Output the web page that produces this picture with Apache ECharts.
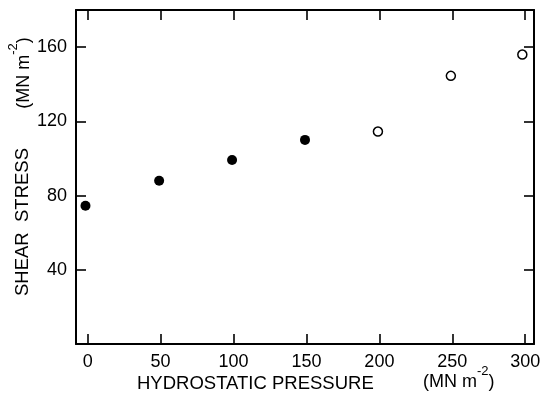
<!DOCTYPE html>
<html>
<head>
<meta charset="utf-8">
<script src="https://cdn.jsdelivr.net/npm/echarts@6/dist/echarts.min.js"></script>
<style>html,body{margin:0;padding:0;background:#fff;}#c{width:545px;height:396px;}</style>
</head>
<body>
<div id="c"></div>
<script>
const xTicks = [0, 50, 100, 150, 200, 250, 300];
const yTicks = [40, 80, 120, 160];
const filledPressure = [-1.5, 49, 99, 149];
const filledStress = [74.5, 88, 99.2, 110];
const openPressure = [199, 249, 298];
const openStress = [114.5, 144.5, 156];

const FONT = '"Liberation Sans", Arial, Helvetica, sans-serif';
const chart = echarts.init(document.getElementById('c'), null, {renderer: 'canvas'});

const line = {show: true, onZero: false, lineStyle: {color: '#000', width: 2}};
const tick = (vals) => ({show: true, inside: true, length: 10, customValues: vals, lineStyle: {color: '#000', width: 1.6}});
const unitRich = {
  m: {fontSize: 18, fontFamily: FONT, color: '#000', lineHeight: 26, verticalAlign: 'bottom'},
  sup: {fontSize: 13, fontFamily: FONT, color: '#000', lineHeight: 13, verticalAlign: 'top'}
};
const unitText = '{m|(MN m}{sup|-2}{m|)}';

chart.setOption({
  animation: false,
  backgroundColor: '#fff',
  grid: {left: 76, right: 11, top: 10, bottom: 52},
  xAxis: [
    {type: 'value', position: 'bottom', min: -8, max: 306, axisLine: line,
     axisTick: tick(xTicks), splitLine: {show: false},
     axisLabel: {show: true, customValues: xTicks, color: '#000', fontSize: 18, fontFamily: FONT, margin: 9}},
    {type: 'value', position: 'top', min: -8, max: 306, axisLine: line,
     axisTick: tick(xTicks), splitLine: {show: false}, axisLabel: {show: false}}
  ],
  yAxis: [
    {type: 'value', position: 'left', min: 0, max: 180, axisLine: line,
     axisTick: tick(yTicks), splitLine: {show: false},
     axisLabel: {show: true, customValues: yTicks, color: '#000', fontSize: 18, fontFamily: FONT, margin: 9}},
    {type: 'value', position: 'right', min: 0, max: 180, axisLine: line,
     axisTick: tick(yTicks), splitLine: {show: false}, axisLabel: {show: false}}
  ],
  series: [
    {type: 'scatter', xAxisIndex: 0, yAxisIndex: 0, symbol: 'circle', symbolSize: 10,
     itemStyle: {color: '#000', opacity: 1}, data: filledPressure.map((x, i) => [x, filledStress[i]])},
    {type: 'scatter', xAxisIndex: 0, yAxisIndex: 0, symbol: 'circle', symbolSize: 9,
     itemStyle: {color: '#fff', borderColor: '#000', borderWidth: 1.5, opacity: 1},
     data: openPressure.map((x, i) => [x, openStress[i]])}
  ],
  graphic: [
    {type: 'text', left: 137, top: 374, style: {text: 'HYDROSTATIC PRESSURE', font: '18.5px ' + FONT, fill: '#000'}},
    {type: 'text', left: 423, top: 365, style: {text: unitText, fill: '#000', rich: unitRich}},
    {type: 'text', x: 23, y: 222, rotation: Math.PI / 2,
     style: {text: 'SHEAR  STRESS', font: '18.5px ' + FONT, fill: '#000', align: 'center', verticalAlign: 'middle'}},
    {type: 'text', x: 20, y: 73, rotation: Math.PI / 2,
     style: {text: unitText, fill: '#000', align: 'center', verticalAlign: 'middle', rich: unitRich}}
  ]
});
</script>
</body>
</html>
